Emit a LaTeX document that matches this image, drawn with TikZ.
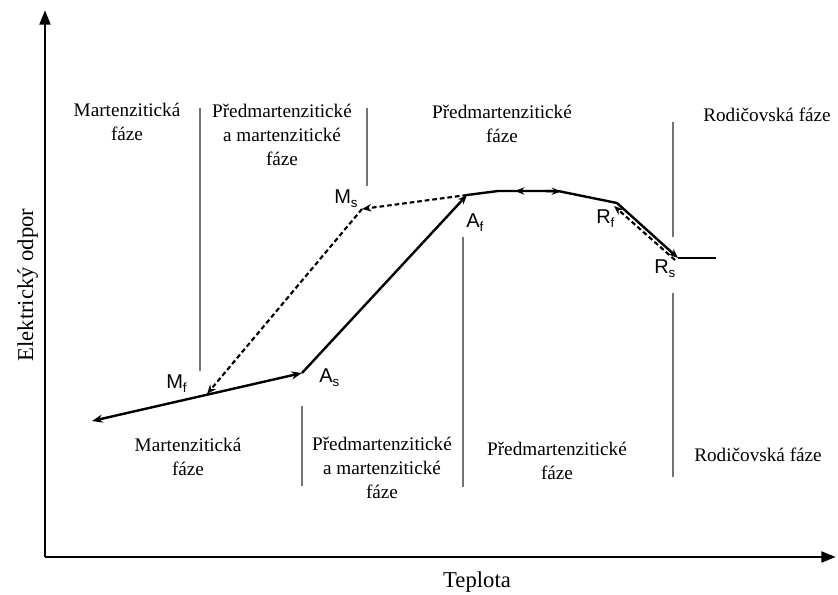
\documentclass[tikz,border=0pt]{standalone}
\usepackage{fontspec}
\setmainfont{Liberation Serif}
\setsansfont{Liberation Sans}
\usetikzlibrary{arrows.meta}
\newcommand{\lowsub}[1]{\raisebox{-0.45ex}{\fontsize{10}{10}\selectfont #1}}
\begin{document}
\begin{tikzpicture}[x=0.75pt,y=-0.75pt,
  axis/.style={line width=2.2pt,-{Triangle[length=11pt,width=8pt]}},
  curve/.style={line width=1.8pt},
  dashcurve/.style={line width=1.6pt,dash pattern=on 3.5pt off 2.2pt},
  tip/.style={-{Stealth[length=7pt,width=5.5pt]}},
  sep/.style={line width=0.8pt,black!55},
  phase/.style={align=center,font=\fontsize{14.4}{18}\selectfont,inner sep=0pt},
  axlabel/.style={font=\fontsize{17}{20}\selectfont,inner sep=0pt},
  pt/.style={font=\sffamily\fontsize{15}{17}\selectfont,inner sep=0pt,anchor=base west}]
\useasboundingbox (0,0) rectangle (838,594);
% axes
\coordinate (O) at (45,557);
\coordinate (Ytop) at (45,10);
\coordinate (Xend) at (836,557);
\draw[axis] (O) -- (Ytop);
\draw[axis] (O) -- (Xend);
\node[axlabel,anchor=base] (tx) at (477,587) {Teplota};
\node[axlabel,anchor=base,rotate=90] (ty) at (33,285) {Elektrický odpor};
% separators
\coordinate (s1a) at (200,108); \coordinate (s1b) at (200,371);
\coordinate (s2a) at (367,108); \coordinate (s2b) at (367,186);
\coordinate (s3a) at (302,406); \coordinate (s3b) at (302,486);
\coordinate (s4a) at (463,237); \coordinate (s4b) at (463,487);
\coordinate (s5a) at (673,122); \coordinate (s5b) at (673,237);
\coordinate (s6a) at (673,293); \coordinate (s6b) at (673,477);
\draw[sep] (s1a) -- (s1b);
\draw[sep] (s2a) -- (s2b);
\draw[sep] (s3a) -- (s3b);
\draw[sep] (s4a) -- (s4b);
\draw[sep] (s5a) -- (s5b);
\draw[sep] (s6a) -- (s6b);
% phase texts
\node[phase] (p1) at (127,122) {Martenzitická\\fáze};
\node[phase] (p2) at (282,135) {Předmartenzitické\\a martenzitické\\fáze};
\node[phase] (p3) at (502,124) {Předmartenzitické\\fáze};
\node[phase] (p4) at (767,115) {Rodičovská fáze};
\node[phase] (q1) at (188,457) {Martenzitická\\fáze};
\node[phase] (q2) at (382,468) {Předmartenzitické\\a martenzitické\\fáze};
\node[phase] (q3) at (557,461) {Předmartenzitické\\fáze};
\node[phase] (q4) at (758,455) {Rodičovská fáze};
% curve points
\coordinate (L) at (92,421);
\coordinate (Mf) at (207,394);
\coordinate (As) at (302,373);
\coordinate (Af) at (467,195);
\coordinate (T1) at (498,191);
\coordinate (T2) at (558,191);
\coordinate (Rf) at (617,203);
\coordinate (Rs) at (678,258);
\coordinate (E) at (716,258);
\coordinate (Ms) at (362,209);
\coordinate (Rfd) at (614,206);
\coordinate (Rsd) at (675,260);
% solid heating/cooling curve
\draw[curve,{Stealth[length=8pt,width=6pt]}-{Stealth[length=8pt,width=6pt]}] (L) -- (As);
\draw[curve,tip] (As) -- (Af);
\draw[curve] (Af) -- (T1) -- (T2) -- (Rf);
\draw[curve,tip] (Rf) -- (Rs);
\draw[curve] (Rs) -- (E);
\coordinate (a1s) at (530,191); \coordinate (a1e) at (515,191);
\coordinate (a2s) at (545,191); \coordinate (a2e) at (561,191.5);
\draw[curve,tip] (a1s) -- (a1e);
\draw[curve,tip] (a2s) -- (a2e);
% dashed cooling path
\draw[dashcurve,tip] (Af) -- (Ms);
\draw[dashcurve,tip] (Ms) -- (Mf);
\draw[dashcurve,tip] (Rsd) -- (Rfd);
% point labels
\node[pt] (lMs) at (334,203) {M\lowsub{s}};
\node[pt] (lMf) at (166,388) {M\lowsub{f}};
\node[pt] (lAs) at (319,382) {A\lowsub{s}};
\node[pt] (lAf) at (466,227) {A\lowsub{f}};
\node[pt] (lRf) at (596,223) {R\lowsub{f}};
\node[pt] (lRs) at (654,273) {R\lowsub{s}};
\end{tikzpicture}
\end{document}
